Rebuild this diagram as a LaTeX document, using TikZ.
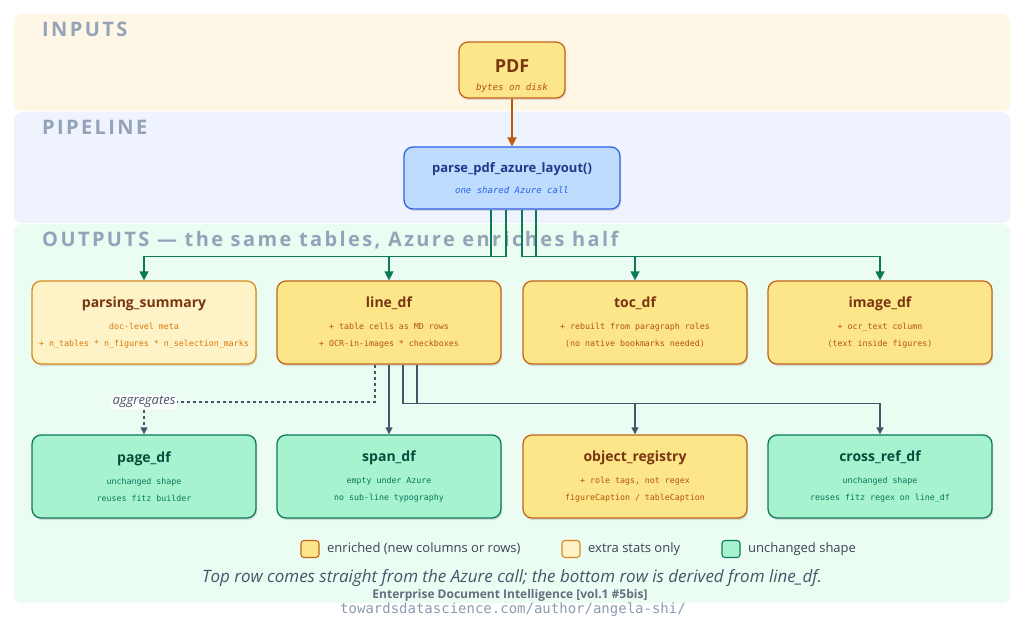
\documentclass[tikz,border=0pt]{standalone}
\usepackage{fontspec}
\setmainfont{Open Sans}
\setmonofont{DejaVu Sans Mono}
\newfontfamily\bandfont{Open Sans}[LetterSpace=12]
\usetikzlibrary{arrows.meta,shadows}

\definecolor{inBand}{HTML}{FFF7E6}
\definecolor{pipeBand}{HTML}{EEF3FE}
\definecolor{outBand}{HTML}{EBFCF3}
\definecolor{bandText}{HTML}{94A3B8}
\definecolor{enrFill}{HTML}{FDE68A}
\definecolor{enrLine}{HTML}{C2661A}
\definecolor{enrTitle}{HTML}{78350F}
\definecolor{enrSub}{HTML}{B45309}
\definecolor{extFill}{HTML}{FEF3C7}
\definecolor{extLine}{HTML}{D98A1E}
\definecolor{extSub}{HTML}{D97706}
\definecolor{sameFill}{HTML}{A7F3D0}
\definecolor{sameLine}{HTML}{0F7A57}
\definecolor{sameTitle}{HTML}{064E3B}
\definecolor{sameSub}{HTML}{047857}
\definecolor{callFill}{HTML}{BFDBFE}
\definecolor{callLine}{HTML}{2F62E6}
\definecolor{callTitle}{HTML}{1E3A8A}
\definecolor{callSub}{HTML}{2563EB}
\definecolor{feedCol}{HTML}{0B7A58}
\definecolor{slate}{HTML}{475569}
\definecolor{pdfArrow}{HTML}{C2570C}

\newcommand\boxtitle[2]{{\fontsize{14}{17}\selectfont\rmfamily\bfseries\color{#1}#2}\\[5pt]}

\begin{document}
\begin{tikzpicture}[x=1pt, y=-1pt,
    band/.style={rounded corners=8pt},
    bandlabel/.style={anchor=west, inner sep=0pt, text=bandText, font=\fontsize{20}{22}\selectfont\bandfont\bfseries},
    box/.style={rounded corners=9pt, minimum width=224pt, minimum height=83pt, align=center, line width=1.3pt,
        drop shadow={shadow xshift=1pt, shadow yshift=-2pt, opacity=0.12, fill=black},
        font=\fontsize{8.3}{17}\selectfont\ttfamily},
    enriched/.style={box, fill=enrFill, draw=enrLine, text=enrSub},
    extra/.style={box, fill=extFill, draw=extLine, text=extSub},
    same/.style={box, fill=sameFill, draw=sameLine, text=sameSub},
    feed/.style={draw=feedCol, line width=1.5pt, -{Triangle[length=9pt,width=9pt]}},
    derive/.style={draw=slate, line width=1.4pt, -{Triangle[length=7pt,width=7pt]}},
    swatch/.style={rounded corners=3pt, line width=1.1pt, minimum width=18pt, minimum height=17pt, inner sep=0pt},
    legend/.style={anchor=west, inner sep=0pt, text=slate!80!black, font=\fontsize{13}{15}\selectfont}]
  \useasboundingbox (0,0) rectangle (1024,617);
  \fill[white] (0,0) rectangle (1024,617);

  % bands
  \fill[band, inBand] (14,14) rectangle (1010,111);
  \fill[band, pipeBand] (14,112) rectangle (1010,223);
  \fill[band, outBand] (14,224) rectangle (1010,603);
  \node[bandlabel] (inLbl) at (42,29) {INPUTS};
  \node[bandlabel] (pipeLbl) at (42,127) {PIPELINE};
  \node[bandlabel] (outLbl) at (42,240) {OUTPUTS — the same tables, Azure enriches half};

  % source and call
  \node[enriched, minimum width=106pt, minimum height=56pt] (pdf) at (512,70)
    {{\rule{0pt}{24pt}\fontsize{18}{20}\selectfont\rmfamily\bfseries\color{enrTitle}PDF}\\[1pt]\fontsize{9.2}{12}\selectfont\itshape bytes on disk};
  \node[box, fill=callFill, draw=callLine, text=callSub, minimum width=216pt, minimum height=62pt] (parse) at (512,178)
    {{\fontsize{13}{17}\selectfont\rmfamily\bfseries\color{callTitle}parse\_pdf\_azure\_layout()}\\[4pt]\fontsize{9}{12}\selectfont\itshape one shared Azure call};

  % top row
  \node[extra] (summary) at (144,322.5)
    {\boxtitle{enrTitle}{parsing\_summary}doc-level meta\\+ n\_tables * n\_figures * n\_selection\_marks};
  \node[enriched] (linedf) at (389,322.5)
    {\boxtitle{enrTitle}{line\_df}+ table cells as MD rows\\+ OCR-in-images * checkboxes};
  \node[enriched] (tocdf) at (635,322.5)
    {\boxtitle{enrTitle}{toc\_df}+ rebuilt from paragraph roles\\(no native bookmarks needed)};
  \node[enriched] (imagedf) at (880,322.5)
    {\boxtitle{enrTitle}{image\_df}+ ocr\_text column\\(text inside figures)};

  % bottom row
  \node[same] (pagedf) at (144,476.5)
    {\boxtitle{sameTitle}{page\_df}unchanged shape\\reuses fitz builder};
  \node[same] (spandf) at (389,476.5)
    {\boxtitle{sameTitle}{span\_df}empty under Azure\\no sub-line typography};
  \node[enriched] (objreg) at (635,476.5)
    {\boxtitle{enrTitle}{object\_registry}+ role tags, not regex\\figureCaption / tableCaption};
  \node[same] (xrefdf) at (880,476.5)
    {\boxtitle{sameTitle}{cross\_ref\_df}unchanged shape\\reuses fitz regex on line\_df};

  \node[fill=white, fill opacity=0.85, text opacity=1, rounded corners=3pt, inner sep=1.5pt, text=slate,
    font=\fontsize{13}{15}\selectfont\itshape] (agg) at (144,402) {aggregates};

  % connectors
  \draw[pdfArrow, line width=1.8pt, -{Triangle[length=9pt,width=9pt]}] (pdf.south) -- (parse.north);
  \draw[feed] ([xshift=-21pt]parse.south) -- ++(0,47) -| (summary.north);
  \draw[feed] ([xshift=-6pt]parse.south) -- ++(0,47) -| (linedf.north);
  \draw[feed] ([xshift=10pt]parse.south) -- ++(0,47) -| (tocdf.north);
  \draw[feed] ([xshift=24pt]parse.south) -- ++(0,47) -| (imagedf.north);

  \draw[slate, line width=1.3pt, dash pattern=on 3.5pt off 2.5pt] ([xshift=-14pt]linedf.south) |- (agg.east);
  \draw[derive, dash pattern=on 3.5pt off 2.5pt] (agg.south) -- (pagedf.north);
  \draw[derive] (linedf.south) -- (spandf.north);
  \draw[derive] ([xshift=14pt]linedf.south) -- ++(0,39) -| (objreg.north);
  \draw[derive] ([xshift=28pt]linedf.south) -- ++(0,39) -| (xrefdf.north);

  % legend
  \node[swatch, fill=enrFill, draw=enrLine] (swEnr) at (310,549) {};
  \node[legend] (lgEnr) at (327,549) {enriched (new columns or rows)};
  \node[swatch, fill=extFill, draw=extLine] (swExt) at (571,549) {};
  \node[legend] (lgExt) at (588,549) {extra stats only};
  \node[swatch, fill=sameFill, draw=sameLine] (swSame) at (731,549) {};
  \node[legend] (lgSame) at (748,549) {unchanged shape};

  \node[text=slate, font=\fontsize{17}{19}\selectfont\itshape, inner sep=0pt] (caption) at (512,578)
    {Top row comes straight from the Azure call; the bottom row is derived from line\_df.};
  \node[text=slate!85, font=\fontsize{12}{13}\selectfont\bfseries, inner sep=0pt] (series) at (510,595)
    {Enterprise Document Intelligence [vol.1 \#5bis]};
  \node[text=bandText!90!slate, font=\fontsize{14}{14}\selectfont\ttfamily, inner sep=0pt] (url) at (513,610)
    {towardsdatascience.com/author/angela-shi/};
\end{tikzpicture}
\end{document}
